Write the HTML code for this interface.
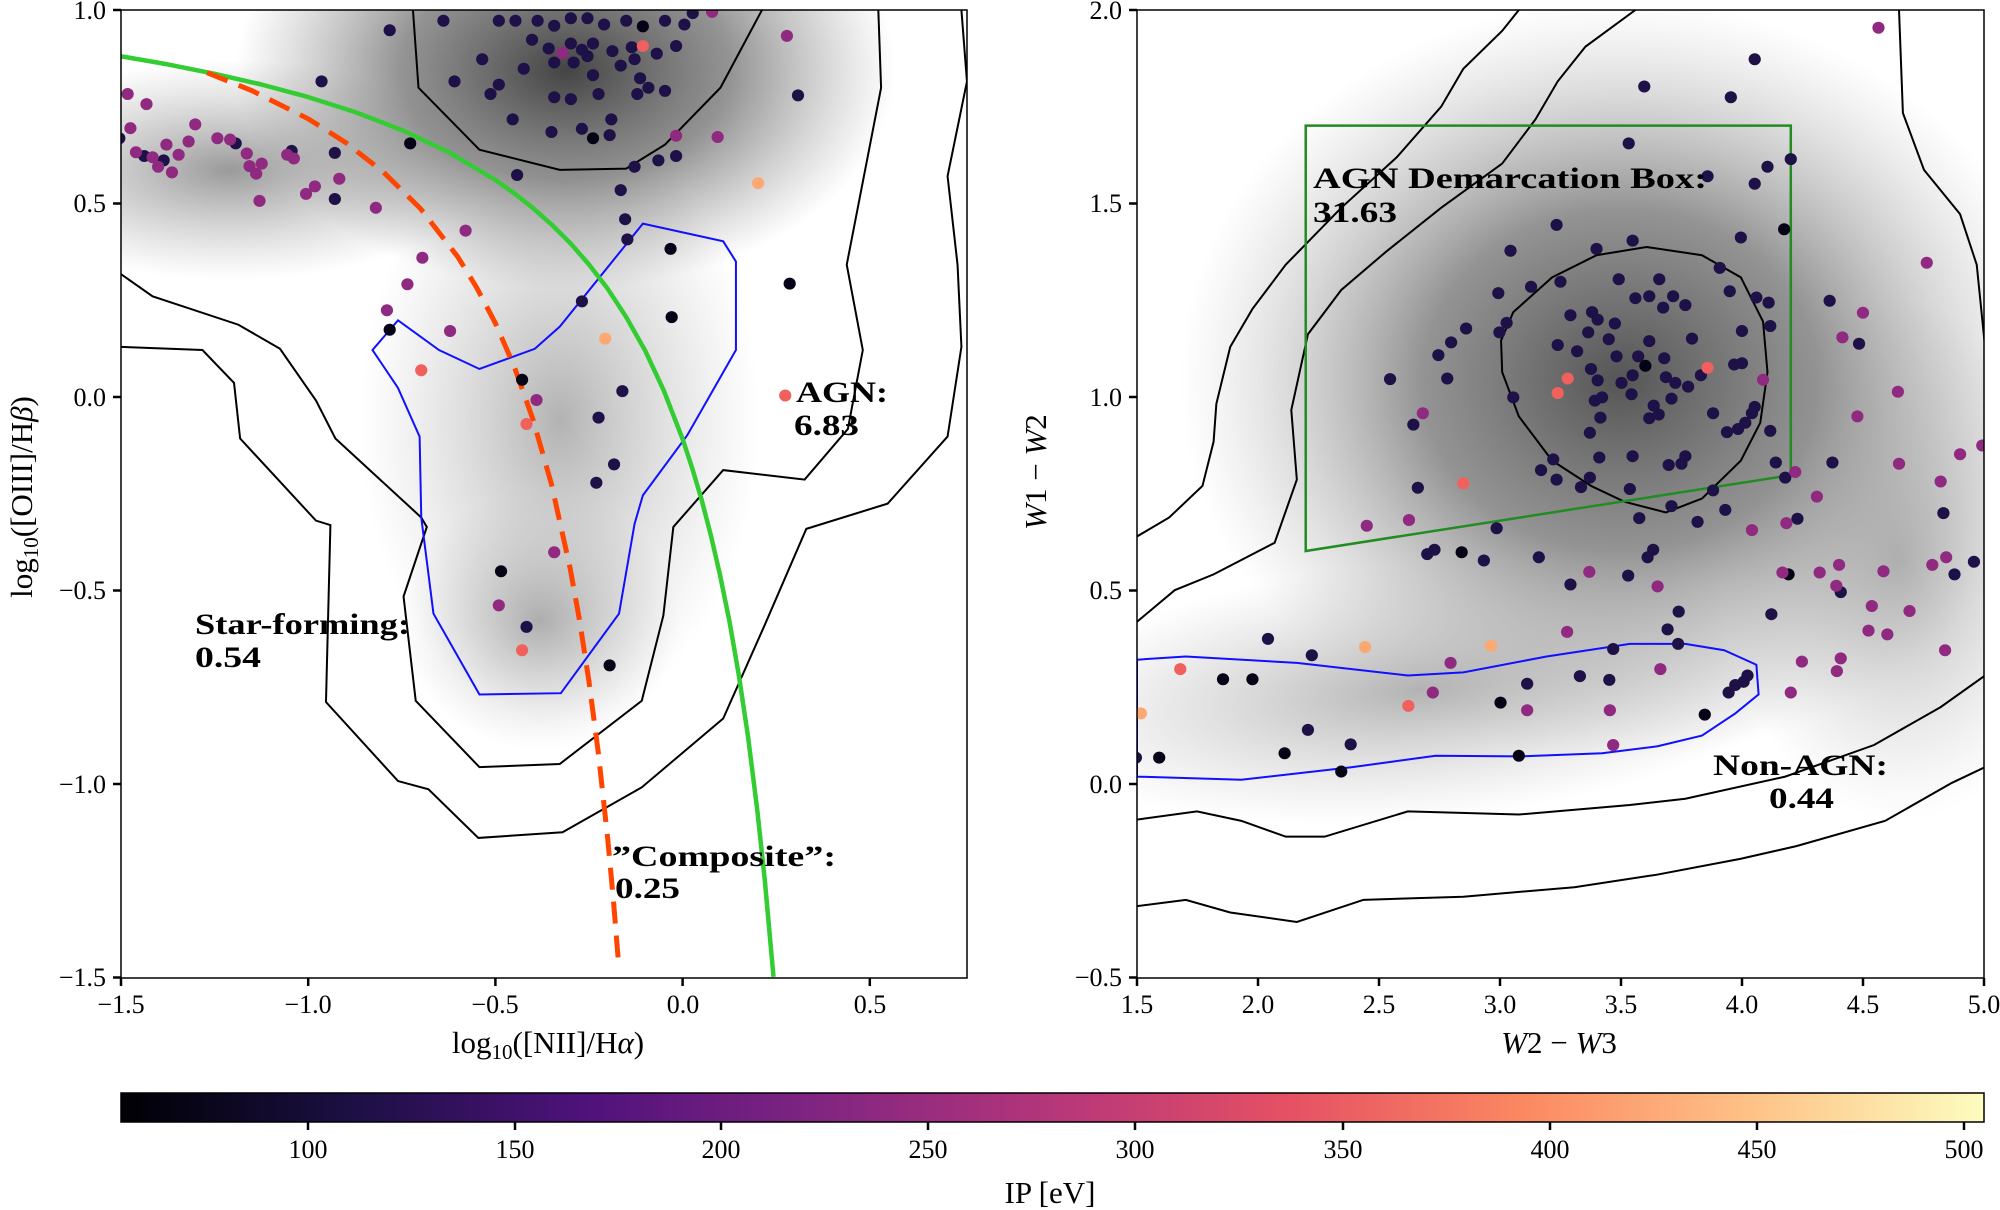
<!DOCTYPE html>
<html><head><meta charset="utf-8"><style>
html,body{margin:0;padding:0;background:#fff;}
svg{display:block;}
text{font-family:"Liberation Serif","DejaVu Serif",serif;fill:#000;}
.t{font-size:26px;}
.b{font-size:30px;font-weight:bold;}
</style></head><body>
<svg width="2000" height="1210" viewBox="0 0 2000 1210" xmlns="http://www.w3.org/2000/svg">
<defs>
<clipPath id="cl"><rect x="121" y="10" width="846" height="968"/></clipPath>
<clipPath id="cr"><rect x="1137" y="10" width="847" height="968"/></clipPath>
<radialGradient id="g1"><stop offset="0" stop-color="#444" stop-opacity="1"/><stop offset="0.5" stop-color="#666" stop-opacity="0.7"/><stop offset="1" stop-color="#888" stop-opacity="0"/></radialGradient>
<radialGradient id="g2"><stop offset="0" stop-color="#888" stop-opacity="0.85"/><stop offset="1" stop-color="#aaa" stop-opacity="0"/></radialGradient>
<radialGradient id="g3"><stop offset="0" stop-color="#999" stop-opacity="0.75"/><stop offset="1" stop-color="#bbb" stop-opacity="0"/></radialGradient>
<radialGradient id="g4"><stop offset="0" stop-color="#555" stop-opacity="1"/><stop offset="0.45" stop-color="#858585" stop-opacity="0.88"/><stop offset="1" stop-color="#bbb" stop-opacity="0"/></radialGradient>
<linearGradient id="cb" x1="0" x2="1" y1="0" y2="0">
<stop offset="0" stop-color="#000004"/><stop offset="0.125" stop-color="#1c1044"/><stop offset="0.25" stop-color="#4f127b"/><stop offset="0.375" stop-color="#812581"/><stop offset="0.5" stop-color="#b5367a"/><stop offset="0.625" stop-color="#e55064"/><stop offset="0.75" stop-color="#fb8761"/><stop offset="0.875" stop-color="#fec287"/><stop offset="1" stop-color="#fcfdbf"/>
</linearGradient>
</defs>

<!-- LEFT PANEL -->
<g clip-path="url(#cl)">
<ellipse cx="230" cy="170" rx="260" ry="110" fill="url(#g2)"/>
<ellipse cx="560" cy="420" rx="200" ry="300" fill="url(#g3)"/>
<ellipse cx="540" cy="620" rx="140" ry="130" fill="url(#g3)"/>
<ellipse cx="566" cy="70" rx="330" ry="220" fill="url(#g1)"/>
<g transform="translate(121,10) scale(0.554,0.632) translate(-18,-17)" fill="none">
<g stroke="#000" stroke-width="2" vector-effect="non-scaling-stroke">
<polyline vector-effect="non-scaling-stroke" points="545,17 555,140 665,238 810,270 930,268 1000,230 1100,140 1175,17"/>
<polyline vector-effect="non-scaling-stroke" points="18,435 75,470 230,515 305,553 370,635 405,695 560,820 570,835 528,945 550,1110 665,1215 810,1210 958,1110 997,975 1015,835 1105,745 1252,760 1330,680 1357,555 1328,420 1390,140 1385,17"/>
<polyline vector-effect="non-scaling-stroke" points="18,550 165,555 222,607 233,695 370,825 396,832 388,1112 518,1237 573,1250 663,1327 815,1318 958,1247 1105,1138 1180,990 1255,838 1402,798 1510,692 1535,550 1528,420 1510,280 1545,130 1535,17"/>
</g>
<polygon vector-effect="non-scaling-stroke" stroke="#1010ff" stroke-width="2" points="472,555 518,508 592,555 665,585 765,553 810,518 960,355 1105,383 1128,415 1128,555 1040,690 960,785 945,830 917,972 812,1098 665,1100 582,972 560,820 557,692 518,615"/>
</g>
<polyline fill="none" stroke="#33cc33" stroke-width="4.5" stroke-linejoin="round" points="121,56.3 167.8,64.4 214.6,73.8 261.4,84.5 308.2,97.1 355,112 401.8,130 448.6,152.1 495.4,180 514.1,193.1 532.8,207.9 551.5,224.4 570.3,243.1 589,264.5 607.7,288.8 626.4,317.4 645.2,350.7 663.8,390.6 682.6,439 691.9,467.2 701.3,498.6 710.6,534.3 720,574.9 729.4,621 738.7,674.4 748.1,737.1 757.4,811.1 764.9,881.2 773.5,976.8"/>
<polyline fill="none" stroke="#ff4500" stroke-width="5" stroke-dasharray="22,12" stroke-linejoin="round" points="207.1,72.7 252,90.7 308.2,118.8 345.6,142.5 383.1,171.8 420.5,208.6 457.9,257 476.6,287.5 495.4,323.2 514.1,366.2 532.8,418.9 551.5,484.3 570.2,568.7 579.6,620.6 588.9,681 598.3,752.7 607.7,838.6 613.3,899 618.9,967.5"/>
<g transform="translate(121,10) scale(0.554,0.632) translate(-18,-17)">
<g fill="#1d1147">
<ellipse cx="503" cy="49" rx="11" ry="9.5"/><ellipse cx="600" cy="34" rx="11" ry="9.5"/><ellipse cx="700" cy="34" rx="11" ry="9.5"/><ellipse cx="730" cy="34" rx="11" ry="9.5"/><ellipse cx="770" cy="34" rx="11" ry="9.5"/><ellipse cx="800" cy="42" rx="11" ry="9.5"/><ellipse cx="830" cy="30" rx="11" ry="9.5"/><ellipse cx="860" cy="30" rx="11" ry="9.5"/><ellipse cx="890" cy="40" rx="11" ry="9.5"/><ellipse cx="930" cy="34" rx="11" ry="9.5"/><ellipse cx="1000" cy="34" rx="11" ry="9.5"/><ellipse cx="1035" cy="40" rx="11" ry="9.5"/><ellipse cx="1050" cy="22" rx="11" ry="9.5"/><ellipse cx="760" cy="64" rx="11" ry="9.5"/><ellipse cx="790" cy="78" rx="11" ry="9.5"/><ellipse cx="830" cy="70" rx="11" ry="9.5"/><ellipse cx="850" cy="80" rx="11" ry="9.5"/><ellipse cx="870" cy="70" rx="11" ry="9.5"/><ellipse cx="905" cy="82" rx="11" ry="9.5"/><ellipse cx="940" cy="76" rx="11" ry="9.5"/><ellipse cx="985" cy="86" rx="11" ry="9.5"/><ellipse cx="1020" cy="74" rx="11" ry="9.5"/><ellipse cx="670" cy="95" rx="11" ry="9.5"/><ellipse cx="745" cy="110" rx="11" ry="9.5"/><ellipse cx="800" cy="100" rx="11" ry="9.5"/><ellipse cx="835" cy="100" rx="11" ry="9.5"/><ellipse cx="860" cy="90" rx="11" ry="9.5"/><ellipse cx="920" cy="105" rx="11" ry="9.5"/><ellipse cx="945" cy="95" rx="11" ry="9.5"/><ellipse cx="620" cy="130" rx="11" ry="9.5"/><ellipse cx="700" cy="135" rx="11" ry="9.5"/><ellipse cx="685" cy="150" rx="11" ry="9.5"/><ellipse cx="800" cy="155" rx="11" ry="9.5"/><ellipse cx="830" cy="158" rx="11" ry="9.5"/><ellipse cx="880" cy="150" rx="11" ry="9.5"/><ellipse cx="950" cy="150" rx="11" ry="9.5"/><ellipse cx="970" cy="140" rx="11" ry="9.5"/><ellipse cx="1000" cy="145" rx="11" ry="9.5"/><ellipse cx="955" cy="125" rx="11" ry="9.5"/><ellipse cx="870" cy="120" rx="11" ry="9.5"/><ellipse cx="725" cy="190" rx="11" ry="9.5"/><ellipse cx="795" cy="210" rx="11" ry="9.5"/><ellipse cx="850" cy="205" rx="11" ry="9.5"/><ellipse cx="900" cy="215" rx="11" ry="9.5"/><ellipse cx="903" cy="190" rx="11" ry="9.5"/><ellipse cx="1240" cy="152" rx="11" ry="9.5"/><ellipse cx="380" cy="130" rx="11" ry="9.5"/><ellipse cx="733" cy="278" rx="11" ry="9.5"/><ellipse cx="945" cy="265" rx="11" ry="9.5"/><ellipse cx="988" cy="255" rx="11" ry="9.5"/><ellipse cx="1020" cy="248" rx="11" ry="9.5"/><ellipse cx="920" cy="302" rx="11" ry="9.5"/><ellipse cx="928" cy="348" rx="11" ry="9.5"/><ellipse cx="932" cy="380" rx="11" ry="9.5"/><ellipse cx="850" cy="478" rx="11" ry="9.5"/><ellipse cx="923" cy="620" rx="11" ry="9.5"/><ellipse cx="880" cy="662" rx="11" ry="9.5"/><ellipse cx="908" cy="736" rx="11" ry="9.5"/><ellipse cx="876" cy="765" rx="11" ry="9.5"/><ellipse cx="750" cy="993" rx="11" ry="9.5"/><ellipse cx="404" cy="316" rx="11" ry="9.5"/><ellipse cx="404" cy="243" rx="11" ry="9.5"/><ellipse cx="326" cy="240" rx="11" ry="9.5"/><ellipse cx="225" cy="228" rx="11" ry="9.5"/><ellipse cx="95" cy="255" rx="11" ry="9.5"/><ellipse cx="60" cy="248" rx="11" ry="9.5"/><ellipse cx="15" cy="220" rx="11" ry="9.5"/>
</g>
<g fill="#050316">
<ellipse cx="960" cy="43" rx="11" ry="9.5"/><ellipse cx="870" cy="220" rx="11" ry="9.5"/><ellipse cx="540" cy="228" rx="11" ry="9.5"/><ellipse cx="1010" cy="395" rx="11" ry="9.5"/><ellipse cx="1225" cy="450" rx="11" ry="9.5"/><ellipse cx="1012" cy="503" rx="11" ry="9.5"/><ellipse cx="503" cy="523" rx="11" ry="9.5"/><ellipse cx="742" cy="602" rx="11" ry="9.5"/><ellipse cx="704" cy="905" rx="11" ry="9.5"/><ellipse cx="900" cy="1054" rx="11" ry="9.5"/>
</g>
<g fill="#8f2a80">
<ellipse cx="815" cy="85" rx="11" ry="9.5"/><ellipse cx="1085" cy="20" rx="11" ry="9.5"/><ellipse cx="1220" cy="58" rx="11" ry="9.5"/><ellipse cx="1020" cy="216" rx="11" ry="9.5"/><ellipse cx="1095" cy="218" rx="11" ry="9.5"/><ellipse cx="768" cy="634" rx="11" ry="9.5"/><ellipse cx="800" cy="875" rx="11" ry="9.5"/><ellipse cx="700" cy="959" rx="11" ry="9.5"/><ellipse cx="612" cy="525" rx="11" ry="9.5"/><ellipse cx="498" cy="492" rx="11" ry="9.5"/><ellipse cx="535" cy="451" rx="11" ry="9.5"/><ellipse cx="562" cy="409" rx="11" ry="9.5"/><ellipse cx="640" cy="366" rx="11" ry="9.5"/><ellipse cx="478" cy="330" rx="11" ry="9.5"/><ellipse cx="412" cy="284" rx="11" ry="9.5"/><ellipse cx="368" cy="296" rx="11" ry="9.5"/><ellipse cx="352" cy="308" rx="11" ry="9.5"/><ellipse cx="330" cy="252" rx="11" ry="9.5"/><ellipse cx="318" cy="246" rx="11" ry="9.5"/><ellipse cx="268" cy="319" rx="11" ry="9.5"/><ellipse cx="272" cy="260" rx="11" ry="9.5"/><ellipse cx="262" cy="276" rx="11" ry="9.5"/><ellipse cx="250" cy="264" rx="11" ry="9.5"/><ellipse cx="245" cy="244" rx="11" ry="9.5"/><ellipse cx="215" cy="222" rx="11" ry="9.5"/><ellipse cx="192" cy="220" rx="11" ry="9.5"/><ellipse cx="152" cy="198" rx="11" ry="9.5"/><ellipse cx="140" cy="225" rx="11" ry="9.5"/><ellipse cx="122" cy="246" rx="11" ry="9.5"/><ellipse cx="110" cy="274" rx="11" ry="9.5"/><ellipse cx="100" cy="230" rx="11" ry="9.5"/><ellipse cx="85" cy="265" rx="11" ry="9.5"/><ellipse cx="75" cy="250" rx="11" ry="9.5"/><ellipse cx="45" cy="242" rx="11" ry="9.5"/><ellipse cx="35" cy="204" rx="11" ry="9.5"/><ellipse cx="30" cy="150" rx="11" ry="9.5"/><ellipse cx="64" cy="166" rx="11" ry="9.5"/>
</g>
<g fill="#f0605d">
<ellipse cx="960" cy="74" rx="11" ry="9.5"/><ellipse cx="1217" cy="627" rx="11" ry="9.5"/><ellipse cx="560" cy="587" rx="11" ry="9.5"/><ellipse cx="750" cy="672" rx="11" ry="9.5"/><ellipse cx="742" cy="1030" rx="11" ry="9.5"/>
</g>
<g fill="#fca873"><ellipse cx="892" cy="537" rx="11" ry="9.5"/><ellipse cx="1168" cy="291" rx="11" ry="9.5"/></g>
</g>
</g>
<rect x="121" y="10" width="846" height="968" fill="none" stroke="#000" stroke-width="1.5"/>
<text class="b" x="796" y="402" textLength="92" lengthAdjust="spacingAndGlyphs">AGN:</text>
<text class="b" x="794" y="435" textLength="65" lengthAdjust="spacingAndGlyphs">6.83</text>
<text class="b" x="195" y="634" textLength="215" lengthAdjust="spacingAndGlyphs">Star-forming:</text>
<text class="b" x="195" y="667" textLength="66" lengthAdjust="spacingAndGlyphs">0.54</text>
<text class="b" x="612" y="866" textLength="224" lengthAdjust="spacingAndGlyphs">”Composite”:</text>
<text class="b" x="615" y="898" textLength="65" lengthAdjust="spacingAndGlyphs">0.25</text>

<g stroke="#000" stroke-width="2.5">
<line x1="113" y1="10" x2="121" y2="10"/><line x1="113" y1="203.5" x2="121" y2="203.5"/><line x1="113" y1="397" x2="121" y2="397"/><line x1="113" y1="590.5" x2="121" y2="590.5"/><line x1="113" y1="784" x2="121" y2="784"/><line x1="113" y1="977.5" x2="121" y2="977.5"/>
<line x1="121" y1="978" x2="121" y2="986"/><line x1="308.2" y1="978" x2="308.2" y2="986"/><line x1="495.4" y1="978" x2="495.4" y2="986"/><line x1="682.6" y1="978" x2="682.6" y2="986"/><line x1="869.8" y1="978" x2="869.8" y2="986"/>
</g>
<g class="t" text-anchor="end">
<text x="106" y="19">1.0</text><text x="106" y="212">0.5</text><text x="106" y="406">0.0</text><text x="106" y="599">−0.5</text><text x="106" y="793">−1.0</text><text x="106" y="986">−1.5</text>
</g>
<g class="t" text-anchor="middle">
<text x="121" y="1013">−1.5</text><text x="308" y="1013">−1.0</text><text x="495" y="1013">−0.5</text><text x="683" y="1013">0.0</text><text x="870" y="1013">0.5</text>
</g>
<text x="548" y="1053" text-anchor="middle" style="font-size:31px">log<tspan font-size="21" dy="6">10</tspan><tspan dy="-6">([NII]/H</tspan><tspan font-style="italic">α</tspan>)</text>
<text transform="translate(32,497) rotate(-90)" text-anchor="middle" style="font-size:31px">log<tspan font-size="21" dy="6">10</tspan><tspan dy="-6">([OIII]/H</tspan><tspan font-style="italic">β</tspan>)</text>

<!-- RIGHT PANEL -->
<g clip-path="url(#cr)">
<ellipse cx="1420" cy="690" rx="400" ry="130" fill="url(#g3)" transform="rotate(-5 1420 690)"/>
<ellipse cx="1900" cy="560" rx="180" ry="260" fill="url(#g3)"/>
<ellipse cx="1620" cy="380" rx="440" ry="380" fill="url(#g4)"/>
<g transform="translate(1137,10) scale(0.555,0.632) translate(-12,-17)" fill="none">
<g stroke="#000" stroke-width="2">
<polygon vector-effect="non-scaling-stroke" points="690,495 760,440 840,405 930,392 1030,405 1100,440 1140,510 1148,590 1135,670 1100,730 1030,790 965,812 890,795 830,770 760,730 700,660 670,590 668,540"/>
<polyline vector-effect="non-scaling-stroke" points="910,17 820,75 770,130 730,190 670,260 560,330 460,400 380,460 320,530 290,650 300,760 260,860 150,910 80,935 12,985"/>
<polyline vector-effect="non-scaling-stroke" points="1385,17 1392,180 1430,270 1495,340 1525,420 1540,550"/>
<polyline vector-effect="non-scaling-stroke" points="1540,1070 1460,1120 1340,1180 1180,1230 1000,1265 900,1275 700,1290 500,1285 350,1325 280,1325 200,1300 120,1285 12,1298"/>
<polyline vector-effect="non-scaling-stroke" points="700,17 670,50 600,110 560,170 480,250 380,330 280,420 220,490 180,550 155,640 150,700 130,770 70,820 12,850"/>
<polyline vector-effect="non-scaling-stroke" points="1540,1215 1480,1240 1360,1300 1200,1340 1100,1360 950,1385 800,1405 600,1420 420,1425 300,1460 180,1445 100,1425 12,1435"/>
</g>
<polygon vector-effect="non-scaling-stroke" stroke="#1010ff" stroke-width="2" points="12,1045 100,1040 300,1050 500,1070 600,1065 750,1040 900,1020 1000,1020 1070,1030 1128,1053 1132,1100 1090,1130 1030,1165 950,1182 850,1193 700,1198 550,1197 400,1215 200,1235 12,1230"/>
<polygon vector-effect="non-scaling-stroke" stroke="#228b22" stroke-width="2.5" points="316,200 1190,200 1190,753 316,873"/>
<g fill="#1d1147">
<ellipse cx="1125" cy="95" rx="11" ry="9.5"/><ellipse cx="926" cy="138" rx="11" ry="9.5"/><ellipse cx="1082" cy="155" rx="11" ry="9.5"/><ellipse cx="898" cy="228" rx="11" ry="9.5"/><ellipse cx="1190" cy="253" rx="11" ry="9.5"/><ellipse cx="1148" cy="265" rx="11" ry="9.5"/><ellipse cx="1040" cy="280" rx="11" ry="9.5"/><ellipse cx="1125" cy="292" rx="11" ry="9.5"/><ellipse cx="768" cy="357" rx="11" ry="9.5"/><ellipse cx="905" cy="382" rx="11" ry="9.5"/><ellipse cx="840" cy="395" rx="11" ry="9.5"/><ellipse cx="1100" cy="377" rx="11" ry="9.5"/><ellipse cx="685" cy="398" rx="11" ry="9.5"/><ellipse cx="880" cy="443" rx="11" ry="9.5"/><ellipse cx="953" cy="443" rx="11" ry="9.5"/><ellipse cx="1062" cy="425" rx="11" ry="9.5"/><ellipse cx="722" cy="455" rx="11" ry="9.5"/><ellipse cx="775" cy="447" rx="11" ry="9.5"/><ellipse cx="1080" cy="462" rx="11" ry="9.5"/><ellipse cx="663" cy="465" rx="11" ry="9.5"/><ellipse cx="910" cy="473" rx="11" ry="9.5"/><ellipse cx="935" cy="470" rx="11" ry="9.5"/><ellipse cx="978" cy="470" rx="11" ry="9.5"/><ellipse cx="1000" cy="484" rx="11" ry="9.5"/><ellipse cx="960" cy="488" rx="11" ry="9.5"/><ellipse cx="1128" cy="472" rx="11" ry="9.5"/><ellipse cx="1150" cy="480" rx="11" ry="9.5"/><ellipse cx="1260" cy="477" rx="11" ry="9.5"/><ellipse cx="793" cy="500" rx="11" ry="9.5"/><ellipse cx="832" cy="495" rx="11" ry="9.5"/><ellipse cx="873" cy="513" rx="11" ry="9.5"/><ellipse cx="842" cy="507" rx="11" ry="9.5"/><ellipse cx="825" cy="527" rx="11" ry="9.5"/><ellipse cx="862" cy="538" rx="11" ry="9.5"/><ellipse cx="605" cy="521" rx="11" ry="9.5"/><ellipse cx="678" cy="512" rx="11" ry="9.5"/><ellipse cx="665" cy="527" rx="11" ry="9.5"/><ellipse cx="1102" cy="525" rx="11" ry="9.5"/><ellipse cx="1153" cy="517" rx="11" ry="9.5"/><ellipse cx="1313" cy="545" rx="11" ry="9.5"/><ellipse cx="578" cy="543" rx="11" ry="9.5"/><ellipse cx="555" cy="563" rx="11" ry="9.5"/><ellipse cx="770" cy="547" rx="11" ry="9.5"/><ellipse cx="805" cy="557" rx="11" ry="9.5"/><ellipse cx="915" cy="565" rx="11" ry="9.5"/><ellipse cx="935" cy="541" rx="11" ry="9.5"/><ellipse cx="1012" cy="537" rx="11" ry="9.5"/><ellipse cx="876" cy="565" rx="11" ry="9.5"/><ellipse cx="962" cy="568" rx="11" ry="9.5"/><ellipse cx="1088" cy="578" rx="11" ry="9.5"/><ellipse cx="1102" cy="576" rx="11" ry="9.5"/><ellipse cx="830" cy="585" rx="11" ry="9.5"/><ellipse cx="842" cy="603" rx="11" ry="9.5"/><ellipse cx="885" cy="607" rx="11" ry="9.5"/><ellipse cx="905" cy="595" rx="11" ry="9.5"/><ellipse cx="965" cy="598" rx="11" ry="9.5"/><ellipse cx="982" cy="607" rx="11" ry="9.5"/><ellipse cx="1005" cy="613" rx="11" ry="9.5"/><ellipse cx="1028" cy="595" rx="11" ry="9.5"/><ellipse cx="468" cy="601" rx="11" ry="9.5"/><ellipse cx="571" cy="600" rx="11" ry="9.5"/><ellipse cx="690" cy="630" rx="11" ry="9.5"/><ellipse cx="837" cy="635" rx="11" ry="9.5"/><ellipse cx="850" cy="630" rx="11" ry="9.5"/><ellipse cx="903" cy="625" rx="11" ry="9.5"/><ellipse cx="943" cy="643" rx="11" ry="9.5"/><ellipse cx="975" cy="632" rx="11" ry="9.5"/><ellipse cx="1050" cy="655" rx="11" ry="9.5"/><ellipse cx="1125" cy="645" rx="11" ry="9.5"/><ellipse cx="1120" cy="655" rx="11" ry="9.5"/><ellipse cx="510" cy="673" rx="11" ry="9.5"/><ellipse cx="828" cy="686" rx="11" ry="9.5"/><ellipse cx="847" cy="662" rx="11" ry="9.5"/><ellipse cx="935" cy="663" rx="11" ry="9.5"/><ellipse cx="952" cy="657" rx="11" ry="9.5"/><ellipse cx="1075" cy="685" rx="11" ry="9.5"/><ellipse cx="1095" cy="680" rx="11" ry="9.5"/><ellipse cx="1108" cy="670" rx="11" ry="9.5"/><ellipse cx="1153" cy="683" rx="11" ry="9.5"/><ellipse cx="762" cy="728" rx="11" ry="9.5"/><ellipse cx="845" cy="725" rx="11" ry="9.5"/><ellipse cx="905" cy="723" rx="11" ry="9.5"/><ellipse cx="1000" cy="723" rx="11" ry="9.5"/><ellipse cx="993" cy="735" rx="11" ry="9.5"/><ellipse cx="970" cy="737" rx="11" ry="9.5"/><ellipse cx="1163" cy="733" rx="11" ry="9.5"/><ellipse cx="1265" cy="733" rx="11" ry="9.5"/><ellipse cx="740" cy="745" rx="11" ry="9.5"/><ellipse cx="768" cy="760" rx="11" ry="9.5"/><ellipse cx="828" cy="757" rx="11" ry="9.5"/><ellipse cx="812" cy="772" rx="11" ry="9.5"/><ellipse cx="900" cy="775" rx="11" ry="9.5"/><ellipse cx="1050" cy="777" rx="11" ry="9.5"/><ellipse cx="1180" cy="757" rx="11" ry="9.5"/><ellipse cx="518" cy="773" rx="11" ry="9.5"/><ellipse cx="1465" cy="813" rx="11" ry="9.5"/><ellipse cx="975" cy="802" rx="11" ry="9.5"/><ellipse cx="1072" cy="808" rx="11" ry="9.5"/><ellipse cx="917" cy="821" rx="11" ry="9.5"/><ellipse cx="1022" cy="827" rx="11" ry="9.5"/><ellipse cx="1202" cy="822" rx="11" ry="9.5"/><ellipse cx="660" cy="837" rx="11" ry="9.5"/><ellipse cx="548" cy="871" rx="11" ry="9.5"/><ellipse cx="535" cy="878" rx="11" ry="9.5"/><ellipse cx="637" cy="888" rx="11" ry="9.5"/><ellipse cx="736" cy="883" rx="11" ry="9.5"/><ellipse cx="942" cy="871" rx="11" ry="9.5"/><ellipse cx="932" cy="883" rx="11" ry="9.5"/><ellipse cx="1485" cy="910" rx="11" ry="9.5"/><ellipse cx="1520" cy="890" rx="11" ry="9.5"/><ellipse cx="1280" cy="938" rx="11" ry="9.5"/><ellipse cx="897" cy="912" rx="11" ry="9.5"/><ellipse cx="793" cy="926" rx="11" ry="9.5"/><ellipse cx="988" cy="969" rx="11" ry="9.5"/><ellipse cx="968" cy="997" rx="11" ry="9.5"/><ellipse cx="1155" cy="973" rx="11" ry="9.5"/><ellipse cx="248" cy="1012" rx="11" ry="9.5"/><ellipse cx="327" cy="1038" rx="11" ry="9.5"/><ellipse cx="870" cy="1028" rx="11" ry="9.5"/><ellipse cx="987" cy="1020" rx="11" ry="9.5"/><ellipse cx="1112" cy="1070" rx="11" ry="9.5"/><ellipse cx="1105" cy="1080" rx="11" ry="9.5"/><ellipse cx="1090" cy="1085" rx="11" ry="9.5"/><ellipse cx="1078" cy="1097" rx="11" ry="9.5"/><ellipse cx="810" cy="1071" rx="11" ry="9.5"/><ellipse cx="863" cy="1077" rx="11" ry="9.5"/><ellipse cx="715" cy="1083" rx="11" ry="9.5"/><ellipse cx="320" cy="1156" rx="11" ry="9.5"/><ellipse cx="397" cy="1179" rx="11" ry="9.5"/><ellipse cx="10" cy="1200" rx="11" ry="9.5"/>
</g>
<g fill="#050316">
<ellipse cx="1178" cy="364" rx="11" ry="9.5"/><ellipse cx="928" cy="580" rx="11" ry="9.5"/><ellipse cx="597" cy="875" rx="11" ry="9.5"/><ellipse cx="1186" cy="910" rx="11" ry="9.5"/><ellipse cx="167" cy="1076" rx="11" ry="9.5"/><ellipse cx="220" cy="1076" rx="11" ry="9.5"/><ellipse cx="667" cy="1113" rx="11" ry="9.5"/><ellipse cx="1035" cy="1132" rx="11" ry="9.5"/><ellipse cx="278" cy="1193" rx="11" ry="9.5"/><ellipse cx="52" cy="1200" rx="11" ry="9.5"/><ellipse cx="700" cy="1197" rx="11" ry="9.5"/><ellipse cx="380" cy="1222" rx="11" ry="9.5"/>
</g>
<g fill="#8f2a80">
<ellipse cx="1348" cy="45" rx="11" ry="9.5"/><ellipse cx="1435" cy="417" rx="11" ry="9.5"/><ellipse cx="1320" cy="496" rx="11" ry="9.5"/><ellipse cx="1283" cy="535" rx="11" ry="9.5"/><ellipse cx="1140" cy="602" rx="11" ry="9.5"/><ellipse cx="1383" cy="621" rx="11" ry="9.5"/><ellipse cx="527" cy="655" rx="11" ry="9.5"/><ellipse cx="1310" cy="660" rx="11" ry="9.5"/><ellipse cx="1495" cy="720" rx="11" ry="9.5"/><ellipse cx="1535" cy="706" rx="11" ry="9.5"/><ellipse cx="1385" cy="735" rx="11" ry="9.5"/><ellipse cx="1198" cy="748" rx="11" ry="9.5"/><ellipse cx="1237" cy="787" rx="11" ry="9.5"/><ellipse cx="1460" cy="763" rx="11" ry="9.5"/><ellipse cx="1182" cy="829" rx="11" ry="9.5"/><ellipse cx="1120" cy="840" rx="11" ry="9.5"/><ellipse cx="426" cy="833" rx="11" ry="9.5"/><ellipse cx="502" cy="824" rx="11" ry="9.5"/><ellipse cx="1175" cy="907" rx="11" ry="9.5"/><ellipse cx="1242" cy="907" rx="11" ry="9.5"/><ellipse cx="1277" cy="895" rx="11" ry="9.5"/><ellipse cx="1357" cy="905" rx="11" ry="9.5"/><ellipse cx="1445" cy="895" rx="11" ry="9.5"/><ellipse cx="1470" cy="883" rx="11" ry="9.5"/><ellipse cx="1272" cy="928" rx="11" ry="9.5"/><ellipse cx="827" cy="906" rx="11" ry="9.5"/><ellipse cx="950" cy="929" rx="11" ry="9.5"/><ellipse cx="1336" cy="960" rx="11" ry="9.5"/><ellipse cx="1404" cy="968" rx="11" ry="9.5"/><ellipse cx="1330" cy="999" rx="11" ry="9.5"/><ellipse cx="1364" cy="1005" rx="11" ry="9.5"/><ellipse cx="1468" cy="1030" rx="11" ry="9.5"/><ellipse cx="787" cy="1001" rx="11" ry="9.5"/><ellipse cx="1280" cy="1043" rx="11" ry="9.5"/><ellipse cx="1210" cy="1048" rx="11" ry="9.5"/><ellipse cx="577" cy="1050" rx="11" ry="9.5"/><ellipse cx="955" cy="1060" rx="11" ry="9.5"/><ellipse cx="1273" cy="1063" rx="11" ry="9.5"/><ellipse cx="1190" cy="1097" rx="11" ry="9.5"/><ellipse cx="545" cy="1097" rx="11" ry="9.5"/><ellipse cx="715" cy="1125" rx="11" ry="9.5"/><ellipse cx="864" cy="1125" rx="11" ry="9.5"/><ellipse cx="870" cy="1180" rx="11" ry="9.5"/>
</g>
<g fill="#f0605d">
<ellipse cx="1040" cy="583" rx="11" ry="9.5"/><ellipse cx="788" cy="600" rx="11" ry="9.5"/><ellipse cx="770" cy="623" rx="11" ry="9.5"/><ellipse cx="600" cy="766" rx="11" ry="9.5"/><ellipse cx="90" cy="1060" rx="11" ry="9.5"/><ellipse cx="501" cy="1118" rx="11" ry="9.5"/>
</g>
<g fill="#fca873"><ellipse cx="423" cy="1025" rx="11" ry="9.5"/><ellipse cx="650" cy="1023" rx="11" ry="9.5"/><ellipse cx="19" cy="1130" rx="11" ry="9.5"/></g>
</g>
</g>
<rect x="1137" y="10" width="847" height="968" fill="none" stroke="#000" stroke-width="1.5"/>
<text class="b" x="1313" y="188" textLength="394" lengthAdjust="spacingAndGlyphs">AGN Demarcation Box:</text>
<text class="b" x="1313" y="222" textLength="84" lengthAdjust="spacingAndGlyphs">31.63</text>
<text class="b" x="1713" y="775" textLength="175" lengthAdjust="spacingAndGlyphs">Non-AGN:</text>
<text class="b" x="1769" y="808" textLength="65" lengthAdjust="spacingAndGlyphs">0.44</text>

<g stroke="#000" stroke-width="2.5">
<line x1="1129" y1="10" x2="1137" y2="10"/><line x1="1129" y1="203.5" x2="1137" y2="203.5"/><line x1="1129" y1="397" x2="1137" y2="397"/><line x1="1129" y1="590.5" x2="1137" y2="590.5"/><line x1="1129" y1="784" x2="1137" y2="784"/><line x1="1129" y1="977.5" x2="1137" y2="977.5"/>
<line x1="1137" y1="978" x2="1137" y2="986"/><line x1="1258" y1="978" x2="1258" y2="986"/><line x1="1379" y1="978" x2="1379" y2="986"/><line x1="1500" y1="978" x2="1500" y2="986"/><line x1="1621" y1="978" x2="1621" y2="986"/><line x1="1742" y1="978" x2="1742" y2="986"/><line x1="1863" y1="978" x2="1863" y2="986"/><line x1="1984" y1="978" x2="1984" y2="986"/>
</g>
<g class="t" text-anchor="end">
<text x="1122" y="19">2.0</text><text x="1122" y="212">1.5</text><text x="1122" y="406">1.0</text><text x="1122" y="599">0.5</text><text x="1122" y="793">0.0</text><text x="1122" y="986">−0.5</text>
</g>
<g class="t" text-anchor="middle">
<text x="1137" y="1013">1.5</text><text x="1258" y="1013">2.0</text><text x="1379" y="1013">2.5</text><text x="1500" y="1013">3.0</text><text x="1621" y="1013">3.5</text><text x="1742" y="1013">4.0</text><text x="1863" y="1013">4.5</text><text x="1984" y="1013">5.0</text>
</g>
<text x="1559" y="1053" text-anchor="middle" style="font-size:31px;font-style:italic">W<tspan font-style="normal">2 − </tspan>W<tspan font-style="normal">3</tspan></text>
<text transform="translate(1046,472) rotate(-90)" text-anchor="middle" style="font-size:31px;font-style:italic">W<tspan font-style="normal">1 − </tspan>W<tspan font-style="normal">2</tspan></text>

<!-- COLORBAR -->
<rect x="121" y="1093" width="1863" height="29" fill="url(#cb)" stroke="#000" stroke-width="1.5"/>
<g stroke="#000" stroke-width="2.5">
<line x1="308" y1="1122" x2="308" y2="1130"/><line x1="515" y1="1122" x2="515" y2="1130"/><line x1="721" y1="1122" x2="721" y2="1130"/><line x1="928" y1="1122" x2="928" y2="1130"/><line x1="1135" y1="1122" x2="1135" y2="1130"/><line x1="1343" y1="1122" x2="1343" y2="1130"/><line x1="1550" y1="1122" x2="1550" y2="1130"/><line x1="1757" y1="1122" x2="1757" y2="1130"/><line x1="1964" y1="1122" x2="1964" y2="1130"/>
</g>
<g class="t" text-anchor="middle">
<text x="308" y="1158">100</text><text x="515" y="1158">150</text><text x="721" y="1158">200</text><text x="928" y="1158">250</text><text x="1135" y="1158">300</text><text x="1343" y="1158">350</text><text x="1550" y="1158">400</text><text x="1757" y="1158">450</text><text x="1964" y="1158">500</text>
</g>
<text x="1050" y="1203" text-anchor="middle" style="font-size:31px">IP [eV]</text>
</svg>
</body></html>
